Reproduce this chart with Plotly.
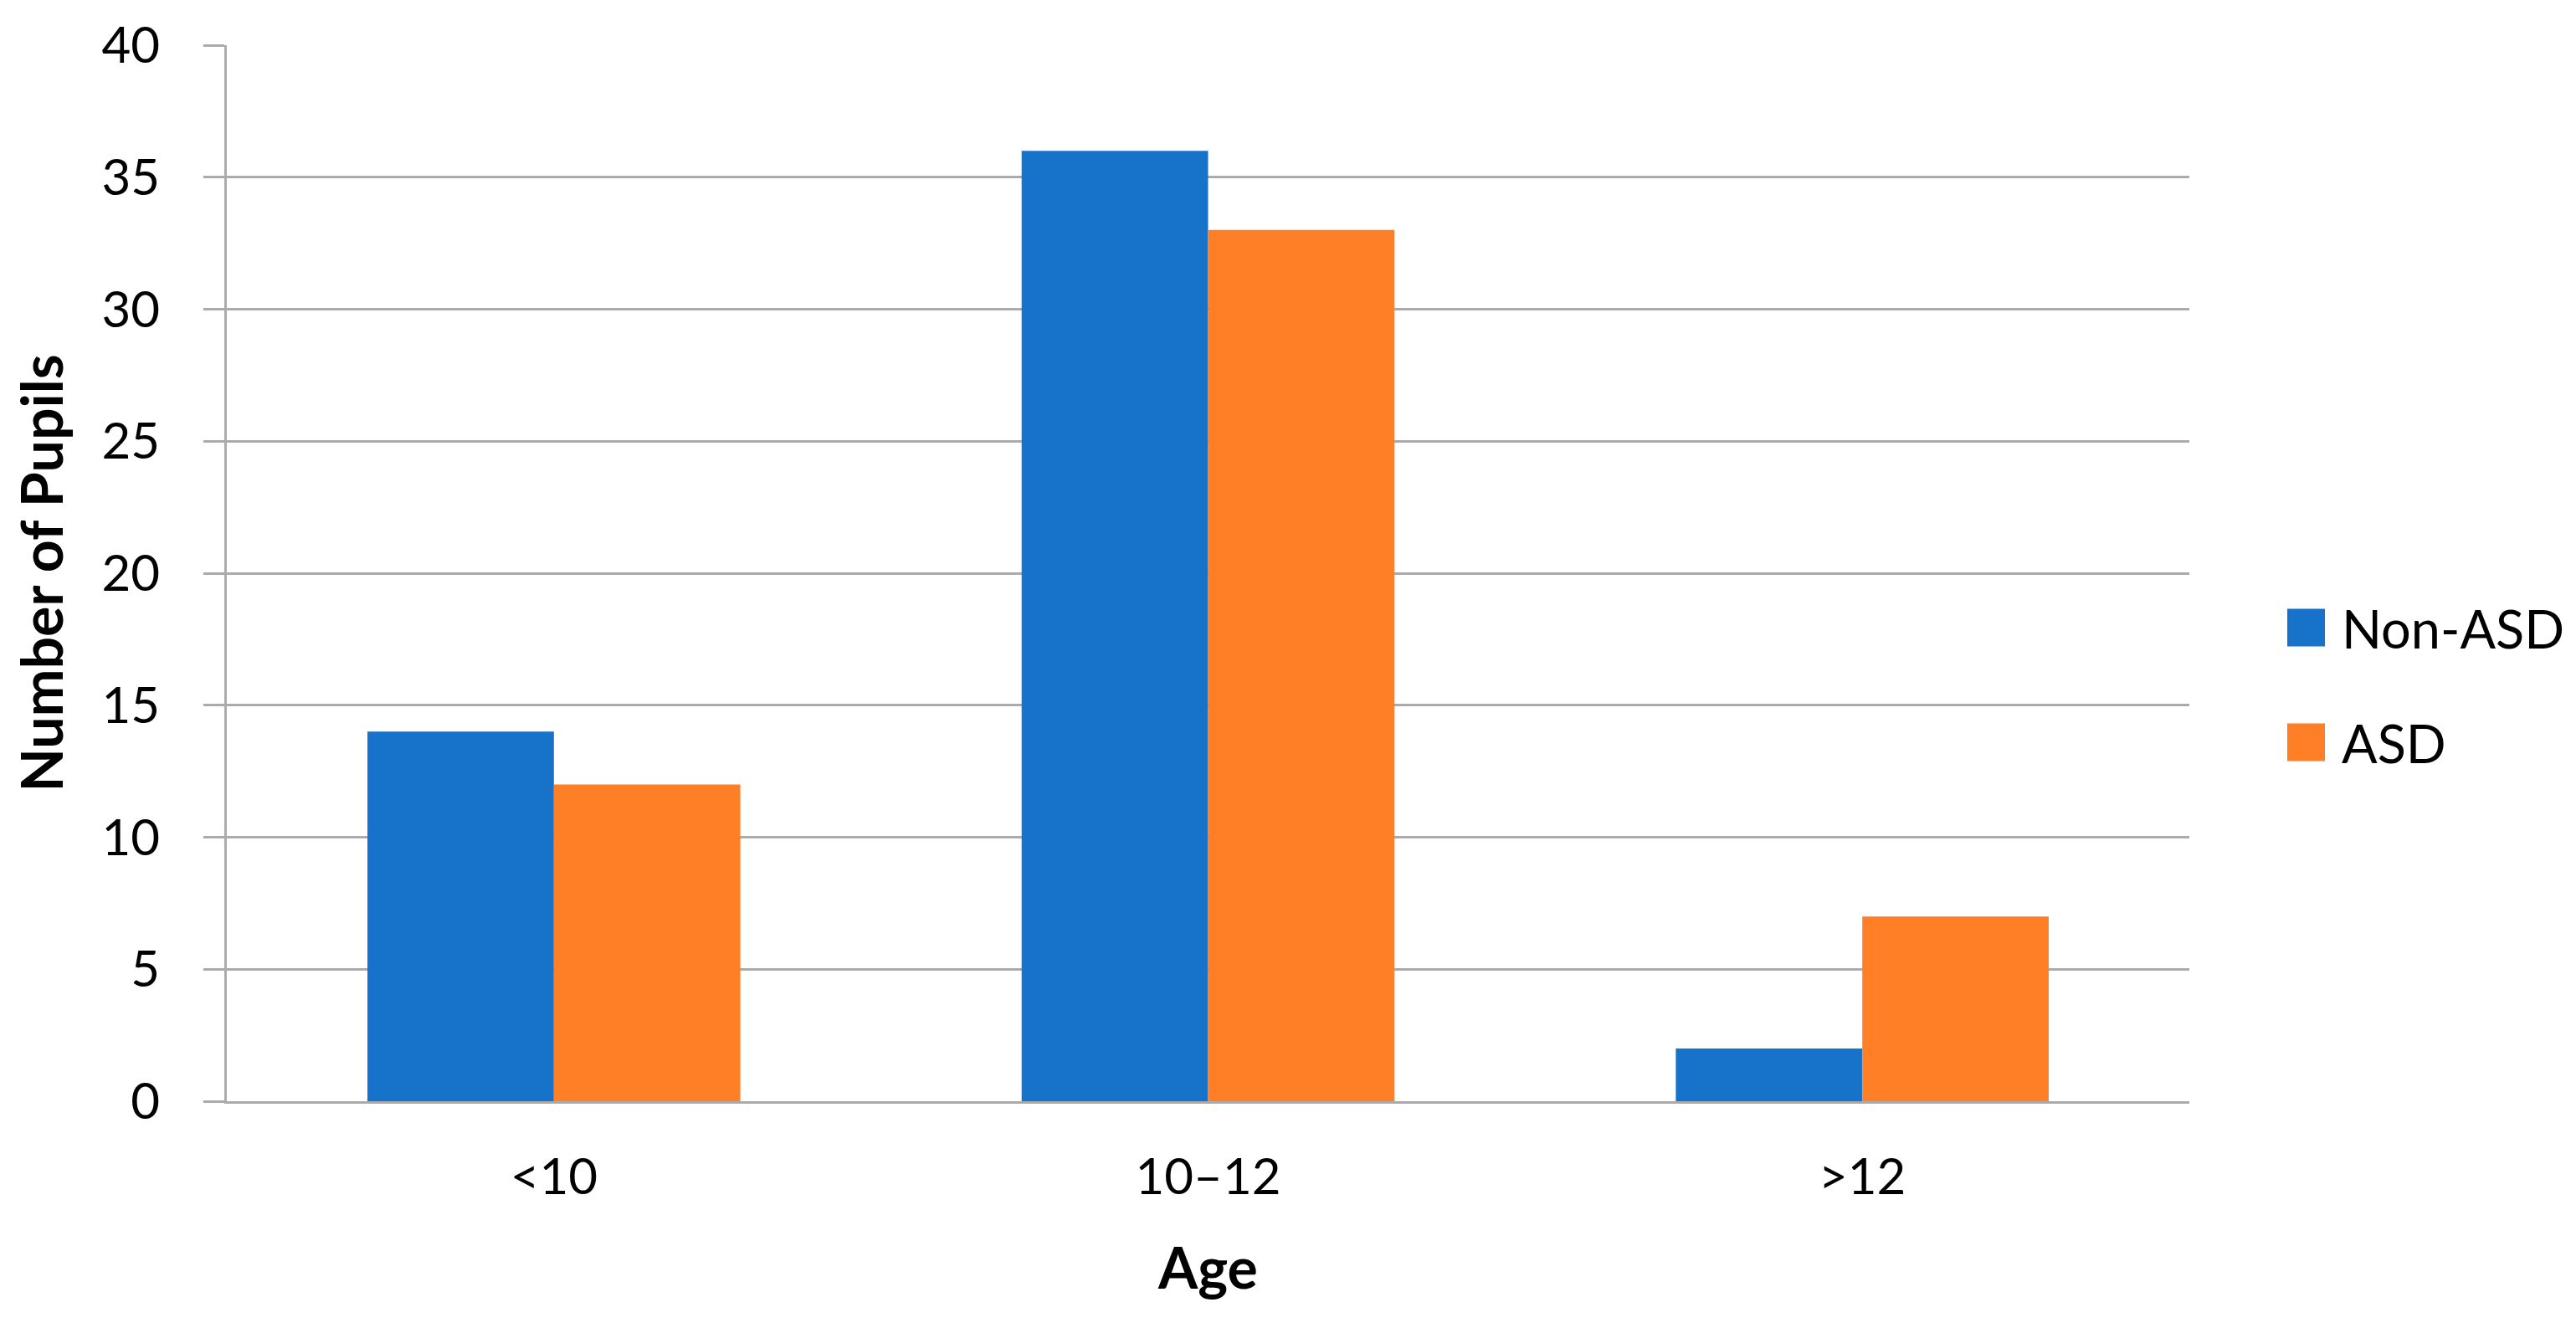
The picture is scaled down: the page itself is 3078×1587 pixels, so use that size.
import plotly.graph_objects as go

categories = ["<10", "10–12", ">12"]
non_asd = [14, 36, 2]
asd = [12, 33, 7]
series_names = ["Non-ASD", "ASD"]
series_colors = ["#1772C9", "#FF7F27"]
y_ticks = [0, 5, 10, 15, 20, 25, 30, 35, 40]

W, H = 3078, 1587
L, R, T, B = 263, 470, 46, 279
FONT = "Lato"
GRID = "#ABABAB"

fig = go.Figure()
for name, vals, col in zip(series_names, [non_asd, asd], series_colors):
    fig.add_trace(go.Bar(x=categories, y=vals, name=name, marker=dict(color=col, line=dict(width=0)),
                         showlegend=False))

fig.update_layout(
    width=W, height=H,
    margin=dict(l=L, r=R, t=T, b=B, pad=0, autoexpand=False),
    paper_bgcolor="white", plot_bgcolor="white",
    barmode="group", bargap=0.43, bargroupgap=0,
    font=dict(family=FONT, color="black", size=60),
)
fig.update_yaxes(
    automargin=False,
    range=[0, 40], tickvals=y_ticks, ticktext=[str(v) for v in y_ticks],
    showgrid=True, gridcolor=GRID, gridwidth=3,
    showline=True, linecolor=GRID, linewidth=3,
    ticks="outside", ticklen=25, tickwidth=3, tickcolor=GRID,
    tickfont=dict(size=60, family=FONT), ticklabelstandoff=40,
    zeroline=False,
    title=dict(text="<b>Number of Pupils</b>", font=dict(size=68, family=FONT), standoff=36),
)
fig.update_xaxes(
    automargin=False,
    showline=True, linecolor=GRID, linewidth=3, ticks="",
    tickfont=dict(size=60, family=FONT), ticklabelstandoff=36,
    title=dict(text="<b>Age</b>", font=dict(size=68, family=FONT), standoff=54),
)

# legend drawn at large scale
plot_w = W - L - R
plot_h = H - T - B
leg_centers = [742, 879]
sq = 45
for name, col, cy in zip(series_names, series_colors, leg_centers):
    yc = (H - B - cy) / plot_h
    fig.add_shape(type="rect", xref="paper", yref="paper",
                  x0=(2725 - L) / plot_w, x1=(2725 + sq - L) / plot_w,
                  y0=yc - sq / 2 / plot_h, y1=yc + sq / 2 / plot_h,
                  fillcolor=col, line=dict(width=0))
    fig.add_annotation(xref="paper", yref="paper", x=(2788 - L) / plot_w, y=yc,
                       text=name, showarrow=False, xanchor="left", yanchor="middle",
                       font=dict(size=63, family=FONT, color="black"))

fig.write_html("out.html")
